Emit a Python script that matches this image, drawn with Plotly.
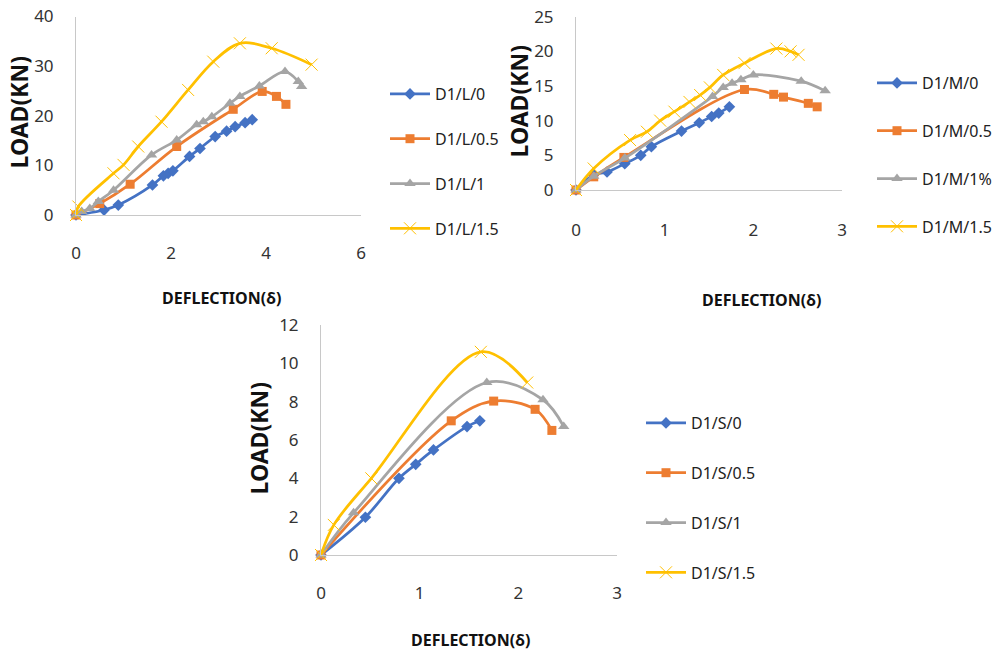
import plotly.graph_objects as go

# ---- data: D1/L ----
L0_x = [0, 0.59, 0.89, 1.61, 1.84, 1.94, 2.04, 2.39, 2.61, 2.93, 3.17, 3.35, 3.56, 3.71]
L0_y = [0, 1.0, 2.0, 6.05, 7.9, 8.4, 8.9, 11.8, 13.4, 15.8, 16.9, 17.8, 18.6, 19.2]
L05_x = [0, 0.5, 1.14, 2.12, 3.31, 3.92, 4.22, 4.42]
L05_y = [0, 2.3, 6.2, 13.8, 21.3, 24.9, 23.9, 22.3]
L1_x = [0, 0.12, 0.29, 0.47, 0.79, 1.59, 2.12, 2.54, 2.68, 2.86, 3.24, 3.45, 3.86, 4.40, 4.68, 4.75]
L1_y = [0, 0.7, 1.3, 2.7, 5.0, 12.1, 15.1, 18.2, 18.8, 19.8, 22.5, 23.9, 26.0, 28.9, 26.9, 25.9]
L15_x = [0, 0.05, 0.79, 1.0, 1.31, 1.80, 2.36, 2.89, 3.45, 4.12, 4.96]
L15_y = [0, 1.7, 8.4, 10.1, 13.8, 18.8, 25.2, 30.9, 34.6, 33.6, 30.3]

# ---- data: D1/M ----
M0_x = [0, 0.20, 0.35, 0.55, 0.73, 0.85, 1.19, 1.39, 1.53, 1.61, 1.73]
M0_y = [0, 2.2, 2.6, 3.8, 5.0, 6.25, 8.5, 9.7, 10.6, 11.1, 12.0]
M05_x = [0, 0.2, 0.54, 1.90, 2.23, 2.34, 2.62, 2.72]
M05_y = [0, 1.9, 4.7, 14.5, 13.8, 13.4, 12.5, 12.0]
M1_x = [0, 0.2, 0.55, 1.54, 1.66, 1.76, 1.86, 2.0, 2.54, 2.81]
M1_y = [0, 2.0, 4.6, 13.5, 14.8, 15.4, 15.9, 16.6, 15.7, 14.3]
M15_x = [0, 0.2, 0.61, 0.80, 0.95, 1.11, 1.28, 1.40, 1.51, 1.66, 1.90, 2.26, 2.42, 2.51]
M15_y = [0, 3.1, 7.2, 8.4, 10.0, 11.3, 12.7, 13.7, 14.8, 16.6, 18.3, 20.4, 20.0, 19.5]

# ---- data: D1/S ----
S0_x = [0, 0.45, 0.79, 0.96, 1.14, 1.48, 1.61]
S0_y = [0, 1.97, 4.0, 4.73, 5.48, 6.7, 7.0]
S05_x = [0, 1.32, 1.75, 2.17, 2.34]
S05_y = [0, 7.0, 8.03, 7.6, 6.5]
S1_x = [0, 0.33, 1.68, 2.25, 2.46]
S1_y = [0, 2.2, 9.0, 8.1, 6.7]
S15_x = [0, 0.13, 0.51, 1.62, 2.09]
S15_y = [0, 1.57, 4.0, 10.6, 9.0]

L_names = ["D1/L/0", "D1/L/0.5", "D1/L/1", "D1/L/1.5"]
M_names = ["D1/M/0", "D1/M/0.5", "D1/M/1%", "D1/M/1.5"]
S_names = ["D1/S/0", "D1/S/0.5", "D1/S/1", "D1/S/1.5"]

colors = ["#4472C4", "#ED7D31", "#A5A5A5", "#FFC000"]
symbols = ["diamond", "square", "triangle-up", "x-thin"]
sizes = [9, 9, 10, 12]

FONT = "Noto Sans"
fig = go.Figure()

panels = [
    ([(L0_x, L0_y), (L05_x, L05_y), (L1_x, L1_y), (L15_x, L15_y)], L_names, "x", "y", "legend"),
    ([(M0_x, M0_y), (M05_x, M05_y), (M1_x, M1_y), (M15_x, M15_y)], M_names, "x2", "y2", "legend2"),
    ([(S0_x, S0_y), (S05_x, S05_y), (S1_x, S1_y), (S15_x, S15_y)], S_names, "x3", "y3", "legend3"),
]

for series, names, xa, ya, lg in panels:
    for i, ((xs, ys), nm) in enumerate(zip(series, names)):
        mk = dict(symbol=symbols[i], size=sizes[i], color=colors[i])
        if symbols[i] == "x-thin":
            mk["line"] = dict(color=colors[i], width=1)
        fig.add_trace(go.Scatter(
            x=xs, y=ys, name=nm, mode="lines+markers",
            line=dict(color=colors[i], width=2.75, shape="spline", smoothing=1.0),
            marker=mk, xaxis=xa, yaxis=ya, legend=lg,
            legendgroup=lg + str(i), cliponaxis=False,
        ))

W, H = 1003, 663
def dx(a, b):
    return [a / W, b / W]
def dy(top, bottom):
    return [1 - bottom / H, 1 - top / H]

tickfont = dict(family=FONT, size=17, color="#333333")
axis_common = dict(showgrid=False, zeroline=False, showline=True, linecolor="#c8c8c8",
                   linewidth=1, ticks="", tickfont=tickfont, fixedrange=True, automargin=False)

legfont = dict(family=FONT, size=16, color="#222")
fig.update_layout(
    width=W, height=H, margin=dict(l=0, r=0, t=0, b=0, pad=0, autoexpand=False),
    paper_bgcolor="white", plot_bgcolor="white",
    font=dict(family=FONT),
    xaxis=dict(domain=dx(76, 361), range=[0, 6], tickvals=[0, 2, 4, 6], anchor="y",
               ticklabelstandoff=23, **axis_common),
    yaxis=dict(domain=dy(16.5, 215), range=[0, 40], tickvals=[0, 10, 20, 30, 40], anchor="x",
               ticklabelstandoff=18, **axis_common),
    xaxis2=dict(domain=dx(576, 842), range=[0, 3], tickvals=[0, 1, 2, 3], anchor="y2",
                ticklabelstandoff=25, **axis_common),
    yaxis2=dict(domain=dy(16.7, 190), range=[0, 25], tickvals=[0, 5, 10, 15, 20, 25], anchor="x2",
                ticklabelstandoff=18, **axis_common),
    xaxis3=dict(domain=dx(321, 617), range=[0, 3], tickvals=[0, 1, 2, 3], anchor="y3",
                ticklabelstandoff=23, **axis_common),
    yaxis3=dict(domain=dy(325, 555), range=[0, 12], tickvals=[0, 2, 4, 6, 8, 10, 12], anchor="x3",
                ticklabelstandoff=18, **axis_common),
    legend=dict(x=385 / W, y=1 - 77 / H, xanchor="left", yanchor="top",
                font=legfont, tracegroupgap=21,
                itemwidth=40, bgcolor="rgba(0,0,0,0)", traceorder="grouped"),
    legend2=dict(x=872 / W, y=1 - 66 / H, xanchor="left", yanchor="top",
                 font=legfont, tracegroupgap=24,
                 itemwidth=40, bgcolor="rgba(0,0,0,0)", traceorder="grouped"),
    legend3=dict(x=641 / W, y=1 - 406 / H, xanchor="left", yanchor="top",
                 font=legfont, tracegroupgap=26,
                 itemwidth=40, bgcolor="rgba(0,0,0,0)", traceorder="grouped"),
)

annos = [
    dict(text="LOAD(KN)", x=18.5, y=113, textangle=-90, size=23),
    dict(text="DEFLECTION(δ)", x=221, y=298, textangle=0, size=16),
    dict(text="LOAD(KN)", x=518.5, y=102, textangle=-90, size=23),
    dict(text="DEFLECTION(δ)", x=761, y=300, textangle=0, size=16),
    dict(text="LOAD(KN)", x=258.5, y=439, textangle=-90, size=23),
    dict(text="DEFLECTION(δ)", x=470, y=640, textangle=0, size=16),
]
for a in annos:
    fig.add_annotation(text="<b>" + a["text"] + "</b>", x=a["x"] / W, y=1 - a["y"] / H,
                       xref="paper", yref="paper", showarrow=False, textangle=a["textangle"],
                       xanchor="center", yanchor="middle",
                       font=dict(family=FONT, size=a["size"], color="#111"))

fig.write_html("out.html")
